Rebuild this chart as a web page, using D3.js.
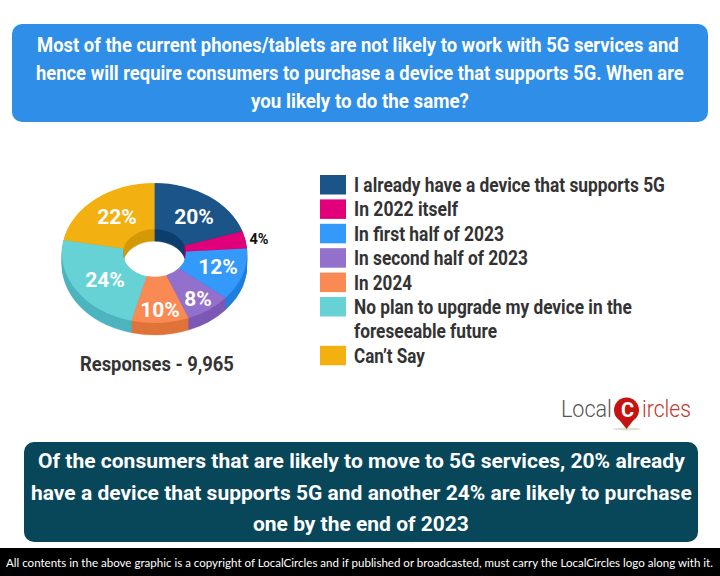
<!DOCTYPE html>
<html><head><meta charset="utf-8">
<script src="https://cdn.jsdelivr.net/npm/d3@7/dist/d3.min.js"></script>
<style>html,body{margin:0;padding:0;background:#fff}svg{display:block}text{font-family:Roboto,sans-serif}</style>
</head><body><div id="c"></div>
<script>
const categories=["I already have a device that supports 5G","In 2022 itself","In first half of 2023","In second half of 2023","In 2024","No plan to upgrade my device in the foreseeable future","Can’t Say"];
const values=[20,4,12,8,10,24,22];
const colors=["#1b5488","#e2007a","#3399fb","#9470cd","#f98a53","#67d2d6","#f2b011"];
const sideColors=["#0d3f6e","#b80063","#1f7fe0","#7d58b4","#df7339","#4db5bf","#d49a06"];
const titleLines=["Most of the current phones/tablets are not likely to work with 5G services and","hence will require consumers to purchase a device that supports 5G. When are","you likely to do the same?"];
const noteLines=["Of the consumers that are likely to move to 5G services, 20% already","have a device that supports 5G and another 24% are likely to purchase","one by the end of 2023"];
const footer="All contents in the above graphic is a copyright of LocalCircles and if published or broadcasted, must carry the LocalCircles logo along with it.";
const responses="Responses - 9,965";
const legendRows=[["I already have a device that supports 5G"],["In 2022 itself"],["In first half of 2023"],["In second half of 2023"],["In 2024"],["No plan to upgrade my device in the","foreseeable future"],["Can’t Say"]];

const svg=d3.select("#c").append("svg").attr("width",720).attr("height",576);
// Place a text so that its left edge is at x and its width is w, by narrowing the glyphs.
function fitText(parent,str,x,y,w,size,weight,fill,family){
  const t=parent.append("text").attr("font-size",size).attr("font-weight",weight).attr("fill",fill).text(str);
  if(family)t.style("font-family",family);
  const k=w/t.node().getComputedTextLength();
  t.attr("transform",`translate(${x},${y}) scale(${k},1)`);
  return t;
}

// header
svg.append("rect").attr("x",12).attr("y",24).attr("width",696).attr("height",98).attr("rx",10).attr("fill","#2e8ee8");
const titleX=[37,36,251],titleW=[642,648,218];
titleLines.forEach((t,i)=>fitText(svg,t,titleX[i],52+i*28,titleW[i],20.5,700,"#fff"));

// donut
const cx=154.5,cy=253,rx=92.5,sy=0.757,depth=12;
const pie=d3.pie().value(d=>d).sort(null);
const arcs=pie(values);
const arc=d3.arc().innerRadius(31.5).outerRadius(rx);
const chart=svg.append("g");
d3.range(depth,0,-1).forEach(d=>{
  chart.append("g").attr("transform",`translate(${cx},${cy+d}) scale(1,${sy})`)
   .selectAll("path").data(arcs).join("path").attr("d",arc).attr("fill",(a,i)=>sideColors[i]).attr("stroke",(a,i)=>sideColors[i]).attr("stroke-width",.4);
});
chart.append("g").attr("transform",`translate(${cx},${cy}) scale(1,${sy})`)
   .selectAll("path").data(arcs).join("path").attr("d",arc).attr("fill",(a,i)=>colors[i]);
const labelPos=[[194,224],[259,244],[218,274],[198,306],[160,317],[105,287],[117,224]];
arcs.forEach((a,i)=>{
  svg.append("text").attr("x",labelPos[i][0]).attr("y",labelPos[i][1])
   .attr("text-anchor","middle").attr("font-weight",700).attr("font-size",i==1?14.5:21)
   .attr("fill",i==1?"#111":"#fff").text(values[i]+"%");
});
fitText(svg,responses,80,371,154,20.5,700,"#333");

// legend
const rowH=24.4;let row=0;
const widths=[[311],[104],[150],[174],[58],[278,143],[71]];
legendRows.forEach((lines,i)=>{
  const y0=175+row*rowH;
  svg.append("rect").attr("x",320).attr("y",y0).attr("width",26).attr("height",19.5).attr("fill",colors[i]);
  lines.forEach((l,j)=>fitText(svg,l,354,y0+17+j*rowH,widths[i][j],20.5,700,"#333"));
  row+=lines.length;
});

// logo
const logo=svg.append("g");
fitText(logo,"Local",561,417,51,24,300,"#555");
logo.append("ellipse").attr("cx",627).attr("cy",429).attr("rx",14).attr("ry",1.5).attr("fill","#dde3cf");
logo.append("path").attr("d","M617 417 L626.5 429 L636 417 Z").attr("fill","#c5140f");
logo.append("circle").attr("cx",626.5).attr("cy",410).attr("r",12.5).attr("fill","#c5140f");
logo.append("text").attr("x",627.5).attr("y",417).attr("text-anchor","middle").attr("font-size",20).attr("font-weight",700).attr("fill","#fff").text("C");
fitText(logo,"ircles",642,417,49,24,300,"#c0392b");

// note
svg.append("rect").attr("x",24).attr("y",442).attr("width",674).attr("height",100).attr("rx",10).attr("fill","#08465a");
const noteX=[38,31,253],noteW=[647,661,216];
noteLines.forEach((t,i)=>fitText(svg,t,noteX[i],468+i*31.5,noteW[i],21,700,"#fff"));

// footer
svg.append("rect").attr("x",0).attr("y",548).attr("width",720).attr("height",28).attr("fill","#000");
fitText(svg,footer,6,566.5,708,12,400,"#fff","Lato,sans-serif");
</script></body></html>
